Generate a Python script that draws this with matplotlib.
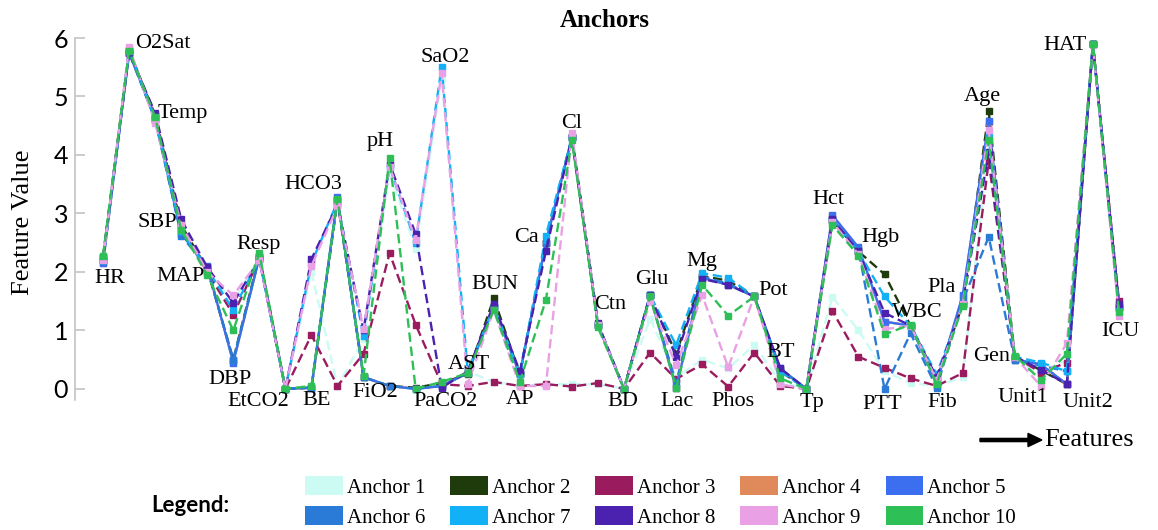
import matplotlib
matplotlib.use("Agg")
import matplotlib.pyplot as plt
from matplotlib.patches import Patch
import numpy as np

features = ["HR", "O2Sat", "Temp", "SBP", "MAP", "DBP", "Resp", "EtCO2", "BE", "HCO3",
            "FiO2", "pH", "PaCO2", "SaO2", "AST", "BUN", "AP", "Ca", "Cl", "Ctn",
            "BD", "Glu", "Lac", "Mg", "Phos", "Pot", "BT", "Tp", "Hct", "Hgb",
            "PTT", "WBC", "Fib", "Pla", "Age", "Gen", "Unit1", "Unit2", "HAT", "ICU"]

anchor1 = [2.2, 5.8, 4.65, 2.75, 2.0, 1.5, 2.25, 0.0, 2.0, 0.05, 0.85, 3.7, 2.4, 5.3, 0.3, 0.12, 0.05, 0.08, 0.08, 0.08,
           0.0, 1.2, 0.2, 0.5, 0.35, 0.75, 0.12, 0.0, 1.57, 1.0, 0.3, 0.1, 0.05, 0.2, 4.2, 0.55, 0.2, 0.5, 5.9, 1.4]
anchor2 = [2.25, 5.78, 4.68, 2.8, 2.05, 0.5, 2.28, 0.0, 0.02, 3.22, 0.2, 0.05, 0.02, 0.1, 0.25, 1.55, 0.25, 2.5, 4.3, 1.1,
           0.0, 1.6, 0.6, 1.93, 1.85, 1.58, 0.3, 0.0, 2.88, 2.35, 1.96, 1.08, 0.15, 1.45, 4.75, 0.55, 0.32, 0.08, 5.9, 1.4]
anchor3 = [2.2, 5.8, 4.65, 2.75, 2.0, 1.27, 2.22, 0.0, 0.92, 0.05, 0.6, 2.32, 1.1, 0.08, 0.05, 0.12, 0.05, 0.08, 0.04, 0.1,
           0.0, 0.62, 0.17, 0.42, 0.04, 0.62, 0.05, 0.0, 1.33, 0.55, 0.36, 0.18, 0.05, 0.27, 3.9, 0.55, 0.28, 0.45, 5.9, 1.5]
anchor4 = [2.16, 5.75, 4.62, 2.66, 2.09, 0.46, 2.25, 0.0, 0.02, 3.27, 0.2, 0.05, 0.0, 0.05, 0.27, 1.4, 0.25, 2.5, 4.3, 1.1,
           0.0, 1.6, 0.02, 1.9, 1.78, 1.58, 0.34, 0.0, 2.95, 2.4, 1.15, 1.08, 0.1, 1.58, 4.56, 0.5, 0.42, 0.08, 5.9, 1.38]
anchor5 = [2.15, 5.75, 4.62, 2.65, 2.1, 0.45, 2.25, 0.0, 0.02, 3.28, 0.2, 0.05, 0.0, 0.05, 0.27, 1.4, 0.25, 2.5, 4.3, 1.1,
           0.0, 1.6, 0.02, 1.9, 1.78, 1.58, 0.35, 0.0, 2.97, 2.42, 1.15, 1.08, 0.1, 1.6, 4.58, 0.5, 0.42, 0.08, 5.9, 1.38]
anchor6 = [2.18, 5.75, 4.6, 2.62, 2.08, 0.5, 2.25, 0.0, 0.02, 3.25, 0.2, 0.05, 0.0, 0.05, 0.27, 1.4, 0.25, 2.5, 4.3, 1.1,
           0.0, 1.6, 0.1, 1.92, 1.8, 1.58, 0.33, 0.0, 2.9, 2.38, 0.0, 0.95, 0.02, 1.5, 2.6, 0.5, 0.4, 0.3, 5.9, 1.4]
anchor7 = [2.2, 5.8, 4.62, 2.7, 2.05, 1.35, 2.22, 0.0, 2.15, 3.2, 0.9, 3.8, 2.5, 5.5, 0.3, 1.4, 0.25, 2.62, 4.3, 1.1,
           0.0, 1.6, 0.75, 1.98, 1.9, 1.58, 0.3, 0.0, 2.88, 2.35, 1.58, 1.08, 0.25, 1.45, 4.3, 0.55, 0.45, 0.3, 5.9, 1.4]
anchor8 = [2.25, 5.75, 4.72, 2.9, 2.08, 1.47, 2.22, 0.0, 2.22, 3.15, 1.0, 3.85, 2.65, 0.02, 0.3, 1.45, 0.3, 2.35, 4.3, 1.12,
           0.0, 1.6, 0.55, 1.88, 1.78, 1.58, 0.35, 0.0, 2.9, 2.35, 1.3, 1.08, 0.2, 1.45, 4.05, 0.55, 0.33, 0.08, 5.9, 1.45]
anchor9 = [2.2, 5.85, 4.55, 2.8, 2.0, 1.6, 2.2, 0.0, 2.1, 3.12, 1.02, 3.8, 2.55, 5.4, 0.08, 1.35, 0.05, 0.05, 4.38, 1.1,
           0.0, 1.5, 0.4, 1.6, 0.37, 1.58, 0.08, 0.0, 2.85, 2.3, 1.02, 1.08, 0.15, 1.45, 4.42, 0.55, 0.05, 0.78, 5.88, 1.25]
anchor10 = [2.28, 5.78, 4.65, 2.72, 1.95, 1.0, 2.32, 0.0, 0.05, 3.25, 0.22, 3.95, 0.0, 0.12, 0.27, 1.35, 0.12, 1.52, 4.25, 1.05,
            0.0, 1.58, 0.02, 1.78, 1.25, 1.58, 0.18, 0.0, 2.8, 2.28, 0.93, 1.1, 0.08, 1.42, 4.25, 0.57, 0.15, 0.6, 5.9, 1.32]

anchors = [anchor1, anchor2, anchor3, anchor4, anchor5, anchor6, anchor7, anchor8, anchor9, anchor10]
names = ["Anchor %d" % (k + 1) for k in range(10)]
colors = ["#ccfbf4", "#1f3b0c", "#9b1b5f", "#e08a5b", "#3b6ff0",
          "#2a7ad8", "#12b0f6", "#4b22b0", "#e9a0e4", "#2fbf57"]

# label placement: (use max or min of the column, dx, dy) in pixels, dy downwards
label_pos = {
    "HR": ("min", 7, 15), "O2Sat": ("max", 34, -3), "Temp": ("max", 28, 1), "SBP": ("max", -24, 3),
    "MAP": ("min", -27, 2), "DBP": ("min", -3, 17), "Resp": ("max", -1, -9), "EtCO2": ("min", -27, 13),
    "BE": ("min", 5, 13), "HCO3": ("max", -24, -13), "FiO2": ("min", 12, 15), "pH": ("max", -9, -16),
    "PaCO2": ("min", 30, 13), "SaO2": ("max", 4, -10), "AST": ("max", 1, -7), "BUN": ("max", 1, -14),
    "AP": ("min", 0, 14), "Ca": ("max", -19, 2), "Cl": ("max", 0, -9), "Ctn": ("max", 12, -19),
    "BD": ("min", -1, 13), "Glu": ("max", 2, -16), "Lac": ("min", 1, 14), "Mg": ("max", 0, -12),
    "Phos": ("min", 5, 15), "Pot": ("max", 19, -6), "BT": ("max", 0, -16), "Tp": ("min", 6, 14),
    "Hct": ("max", -4, -16), "Hgb": ("max", 22, -10), "PTT": ("min", -2, 16), "WBC": ("max", 7, -12),
    "Fib": ("min", 6, 15), "Pla": ("max", -21, -8), "Age": ("max", -6, -15), "Gen": ("max", -23, 1),
    "Unit1": ("min", -18, 12), "Unit2": ("min", 21, 18), "HAT": ("max", -28, 2), "ICU": ("min", 1, 16),
}

serif = "Liberation Serif"
x = np.arange(len(features))
data = np.array(anchors)

fig = plt.figure(figsize=(11.58, 5.3), dpi=100)
ax = fig.add_axes([0.0648, 0.2453, 0.9197, 0.683])

for k, vals in enumerate(anchors):
    ls = "-" if k == 4 else (0, (4, 2))
    ax.plot(x, vals, linestyle=ls, color=colors[k], lw=1.7, marker="s", markersize=4,
            clip_on=False)

for i, f in enumerate(features):
    which, dx, dy = label_pos[f]
    ref = data[:, i].max() if which == "max" else data[:, i].min()
    ax.annotate(f, xy=(i, ref), xytext=(dx, -dy), textcoords="offset pixels",
                ha="center", va="center", fontsize=16, family=serif)

ax.set_xlim(-1.075, 39.81)
ax.set_ylim(-0.19, 6.0)
ax.set_yticks(range(0, 7))
ax.set_xticks([])
for s in ["top", "right", "bottom"]:
    ax.spines[s].set_visible(False)
ax.spines["left"].set_color("#c4c4c4")
ax.spines["left"].set_linewidth(1.2)
ax.spines["left"].set_bounds(-0.19, 6.0)
ax.tick_params(axis="y", direction="in", length=7, width=1.2, color="#c4c4c4",
               pad=5, labelsize=18)
for t in ax.get_yticklabels():
    t.set_family("Lato")

fig.text(0.02, 0.58, "Feature Value", rotation=90, ha="center", va="center",
         fontsize=19, family=serif)
fig.text(0.522, 0.962, "Anchors", ha="center", va="center", fontsize=18,
         fontweight="bold", family=serif)

# x direction arrow
fig.patches.append(matplotlib.patches.FancyArrow(
    980 / 1158, 1 - 440 / 530, 48 / 1158, 0, width=0.006, head_width=0.025,
    head_length=0.012, color="black", transform=fig.transFigure, length_includes_head=False))
fig.text(1044 / 1158, 1 - 440 / 530, "Features", ha="left", va="center",
         fontsize=19, family=serif)

fig.text(190 / 1158, 1 - 505 / 530, "Legend:", ha="center", va="center",
         fontsize=16, fontweight="bold", family="Lato")

handles = [Patch(facecolor=c, edgecolor="none") for c in colors]
order = [0, 5, 1, 6, 2, 7, 3, 8, 4, 9]
fig.legend([handles[j] for j in order], [names[j] for j in order], ncol=5,
           loc="center left", bbox_to_anchor=(305 / 1158, 1 - 502 / 530),
           frameon=False, borderpad=0, borderaxespad=0, handlelength=1.8,
           handleheight=1.0, handletextpad=0.2, columnspacing=1.2, labelspacing=0.4,
           prop={"family": serif, "size": 15})

fig.savefig("out.png", dpi=100)
plt.close(fig)
